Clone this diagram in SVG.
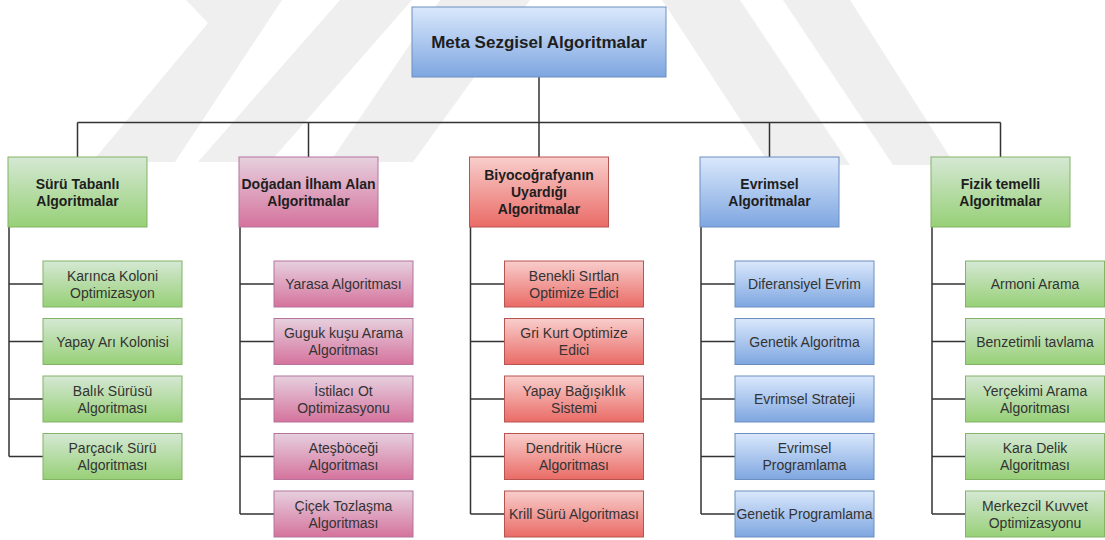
<svg xmlns="http://www.w3.org/2000/svg" width="1105" height="540" viewBox="0 0 1105 540">
<defs>
<linearGradient id="gGreen" x1="0" y1="0" x2="0" y2="1"><stop offset="0" stop-color="#d5e8d4"/><stop offset="1" stop-color="#97d077"/></linearGradient>
<linearGradient id="gPink" x1="0" y1="0" x2="0" y2="1"><stop offset="0" stop-color="#e6d0de"/><stop offset="1" stop-color="#d5739d"/></linearGradient>
<linearGradient id="gRed" x1="0" y1="0" x2="0" y2="1"><stop offset="0" stop-color="#f8cecc"/><stop offset="1" stop-color="#ea6b66"/></linearGradient>
<linearGradient id="gBlue" x1="0" y1="0" x2="0" y2="1"><stop offset="0" stop-color="#dae8fc"/><stop offset="1" stop-color="#7ea6e0"/></linearGradient>
<style>
.green{fill:url(#gGreen);stroke:#82b366;stroke-width:1}
.pink{fill:url(#gPink);stroke:#b5739d;stroke-width:1}
.red{fill:url(#gRed);stroke:#b85450;stroke-width:1}
.blue{fill:url(#gBlue);stroke:#6c8ebf;stroke-width:1}
text{font-family:"Liberation Sans",Arial,Helvetica,sans-serif;text-anchor:middle;fill:#1e1e1e}
.title{font-size:17px;font-weight:bold}
.hdr{font-size:14px;font-weight:bold}
.leaf{font-size:14px;fill:#333}
.wm{fill:#efefef;stroke:none}
.conn{fill:none;stroke:#333;stroke-width:1.5}
</style>
</defs>
<rect width="1105" height="540" fill="#ffffff"/>
<g id="watermark">
<polygon class="wm" points="186,0 282,0 175,162 92,162 208,23"/>
<polygon class="wm" points="340,0 412,0 270,162 198,162"/>
<polygon class="wm" points="440,0 530,0 413,162 330,162"/>
<polygon class="wm" points="662,0 740,0 850,165 770,165"/>
<polygon class="wm" points="783,0 850,0 955,165 893,165"/>
</g>
<g id="connectors">
<path class="conn" d="M539,77 V157 M77.5,122.5 H1000.5 M77.5,122.5 V157 M308.5,122.5 V157 M769.5,122.5 V157 M1000.5,122.5 V157"/>
<path class="conn" d="M9,227 V456.5 M9,284 H43 M9,341.5 H43 M9,399 H43 M9,456.5 H43"/>
<path class="conn" d="M240,227 V514 M240,284 H274 M240,341.5 H274 M240,399 H274 M240,456.5 H274 M240,514 H274"/>
<path class="conn" d="M470.5,227 V514 M470.5,284 H504.5 M470.5,341.5 H504.5 M470.5,399 H504.5 M470.5,456.5 H504.5 M470.5,514 H504.5"/>
<path class="conn" d="M701,227 V514 M701,284 H735 M701,341.5 H735 M701,399 H735 M701,456.5 H735 M701,514 H735"/>
<path class="conn" d="M932,227 V514 M932,284 H966 M932,341.5 H966 M932,399 H966 M932,456.5 H966 M932,514 H966"/>
</g>
<g id="root"><rect class="blue" x="412" y="7" width="254" height="70"/><text class="title" x="539" y="48">Meta Sezgisel Algoritmalar</text></g>
<g id="h1"><rect class="green" x="8" y="157" width="139" height="70"/><text class="hdr" x="77.5" y="188.5">Sürü Tabanlı</text><text class="hdr" x="77.5" y="205.5">Algoritmalar</text></g>
<g id="h2"><rect class="pink" x="239" y="157" width="139" height="70"/><text class="hdr" x="308.5" y="188.5">Doğadan İlham Alan</text><text class="hdr" x="308.5" y="205.5">Algoritmalar</text></g>
<g id="h3"><rect class="red" x="469.5" y="157" width="139" height="70"/><text class="hdr" x="539" y="180">Biyocoğrafyanın</text><text class="hdr" x="539" y="197">Uyardığı</text><text class="hdr" x="539" y="214">Algoritmalar</text></g>
<g id="h4"><rect class="blue" x="700" y="157" width="139" height="70"/><text class="hdr" x="769.5" y="188.5">Evrimsel</text><text class="hdr" x="769.5" y="205.5">Algoritmalar</text></g>
<g id="h5"><rect class="green" x="931" y="157" width="139" height="70"/><text class="hdr" x="1000.5" y="188.5">Fizik temelli</text><text class="hdr" x="1000.5" y="205.5">Algoritmalar</text></g>

<g id="c1a"><rect class="green" x="43" y="261" width="139" height="46"/><text class="leaf" x="112.5" y="280.5">Karınca Koloni</text><text class="leaf" x="112.5" y="297.5">Optimizasyon</text></g>
<g id="c1b"><rect class="green" x="43" y="318.5" width="139" height="46"/><text class="leaf" x="112.5" y="346.5">Yapay Arı Kolonisi</text></g>
<g id="c1c"><rect class="green" x="43" y="376" width="139" height="46"/><text class="leaf" x="112.5" y="395.5">Balık Sürüsü</text><text class="leaf" x="112.5" y="412.5">Algoritması</text></g>
<g id="c1d"><rect class="green" x="43" y="433.5" width="139" height="46"/><text class="leaf" x="112.5" y="453">Parçacık Sürü</text><text class="leaf" x="112.5" y="470">Algoritması</text></g>

<g id="c2a"><rect class="pink" x="274" y="261" width="139" height="46"/><text class="leaf" x="343.5" y="289">Yarasa Algoritması</text></g>
<g id="c2b"><rect class="pink" x="274" y="318.5" width="139" height="46"/><text class="leaf" x="343.5" y="338">Guguk kuşu Arama</text><text class="leaf" x="343.5" y="355">Algoritması</text></g>
<g id="c2c"><rect class="pink" x="274" y="376" width="139" height="46"/><text class="leaf" x="343.5" y="395.5">İstilacı Ot</text><text class="leaf" x="343.5" y="412.5">Optimizasyonu</text></g>
<g id="c2d"><rect class="pink" x="274" y="433.5" width="139" height="46"/><text class="leaf" x="343.5" y="453">Ateşböceği</text><text class="leaf" x="343.5" y="470">Algoritması</text></g>
<g id="c2e"><rect class="pink" x="274" y="491" width="139" height="46"/><text class="leaf" x="343.5" y="510.5">Çiçek Tozlaşma</text><text class="leaf" x="343.5" y="527.5">Algoritması</text></g>

<g id="c3a"><rect class="red" x="504.5" y="261" width="139" height="46"/><text class="leaf" x="574" y="280.5">Benekli Sırtlan</text><text class="leaf" x="574" y="297.5">Optimize Edici</text></g>
<g id="c3b"><rect class="red" x="504.5" y="318.5" width="139" height="46"/><text class="leaf" x="574" y="338">Gri Kurt Optimize</text><text class="leaf" x="574" y="355">Edici</text></g>
<g id="c3c"><rect class="red" x="504.5" y="376" width="139" height="46"/><text class="leaf" x="574" y="395.5">Yapay Bağışıklık</text><text class="leaf" x="574" y="412.5">Sistemi</text></g>
<g id="c3d"><rect class="red" x="504.5" y="433.5" width="139" height="46"/><text class="leaf" x="574" y="453">Dendritik Hücre</text><text class="leaf" x="574" y="470">Algoritması</text></g>
<g id="c3e"><rect class="red" x="504.5" y="491" width="139" height="46"/><text class="leaf" x="574" y="519">Krill Sürü Algoritması</text></g>

<g id="c4a"><rect class="blue" x="735" y="261" width="139" height="46"/><text class="leaf" x="804.5" y="289">Diferansiyel Evrim</text></g>
<g id="c4b"><rect class="blue" x="735" y="318.5" width="139" height="46"/><text class="leaf" x="804.5" y="346.5">Genetik Algoritma</text></g>
<g id="c4c"><rect class="blue" x="735" y="376" width="139" height="46"/><text class="leaf" x="804.5" y="404">Evrimsel Strateji</text></g>
<g id="c4d"><rect class="blue" x="735" y="433.5" width="139" height="46"/><text class="leaf" x="804.5" y="453">Evrimsel</text><text class="leaf" x="804.5" y="470">Programlama</text></g>
<g id="c4e"><rect class="blue" x="735" y="491" width="139" height="46"/><text class="leaf" x="804.5" y="519">Genetik Programlama</text></g>

<g id="c5a"><rect class="green" x="965.5" y="261" width="139" height="46"/><text class="leaf" x="1035" y="289">Armoni Arama</text></g>
<g id="c5b"><rect class="green" x="965.5" y="318.5" width="139" height="46"/><text class="leaf" x="1035" y="346.5">Benzetimli tavlama</text></g>
<g id="c5c"><rect class="green" x="965.5" y="376" width="139" height="46"/><text class="leaf" x="1035" y="395.5">Yerçekimi Arama</text><text class="leaf" x="1035" y="412.5">Algoritması</text></g>
<g id="c5d"><rect class="green" x="965.5" y="433.5" width="139" height="46"/><text class="leaf" x="1035" y="453">Kara Delik</text><text class="leaf" x="1035" y="470">Algoritması</text></g>
<g id="c5e"><rect class="green" x="965.5" y="491" width="139" height="46"/><text class="leaf" x="1035" y="510.5">Merkezcil Kuvvet</text><text class="leaf" x="1035" y="527.5">Optimizasyonu</text></g>
</svg>
